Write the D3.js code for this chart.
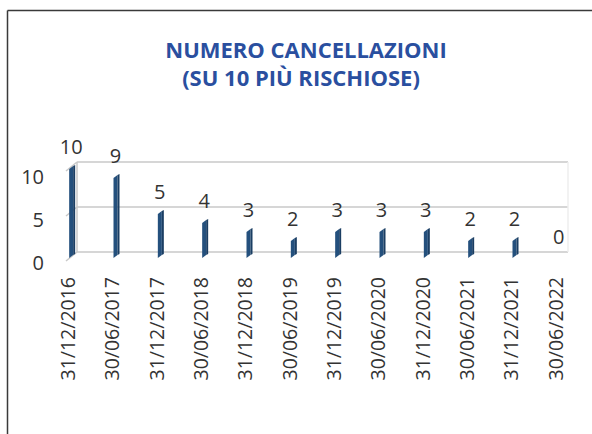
<!DOCTYPE html>
<html><head><meta charset="utf-8">
<script src="https://cdn.jsdelivr.net/npm/d3@7"></script>
<style>body{margin:0;background:#fff}svg{display:block}</style>
</head><body>
<script>
const categories = ["31/12/2016","30/06/2017","31/12/2017","30/06/2018","31/12/2018","30/06/2019","31/12/2019","30/06/2020","31/12/2020","30/06/2021","31/12/2021","30/06/2022"];
const values = [10,9,5,4,3,2,3,3,3,2,2,0];
const yTicks = [0,5,10];
const titleLines = ["NUMERO CANCELLAZIONI","(SU 10 PIÙ RISCHIOSE)"];

const W=592,H=434;
const svg=d3.select("body").append("svg").attr("width",W).attr("height",H);
svg.append("rect").attr("width",W).attr("height",H).attr("fill","#fff");

// border (top & left)
svg.append("line").attr("x1",7.5).attr("x2",W).attr("y1",10.5).attr("y2",10.5).attr("stroke","#3a3a3a").attr("stroke-width",1.5);
svg.append("line").attr("x1",7.5).attr("x2",7.5).attr("y1",10.5).attr("y2",H).attr("stroke","#3a3a3a").attr("stroke-width",1.5);

// title
svg.selectAll("text.title").data(titleLines).join("text")
  .attr("class","title")
  .attr("x",(d,i)=>i?301:306).attr("y",(d,i)=>i?86:57.5)
  .attr("text-anchor","middle")
  .attr("font-family","'Open Sans'").attr("font-weight","bold").attr("font-size",22)
  .attr("fill","#2a4f9f").text(d=>d);

const x=d3.scalePoint().domain(categories).range([50,582]).padding(0.5);
const y=d3.scaleLinear().domain([0,10]).range([258,168]);
const yLab=d3.scaleLinear().domain([0,10]).range([263,177]);
const DX=7, DY=-6;
const xL=70, xR=561;

const grid=svg.append("g").attr("stroke","#c9c9c9").attr("stroke-width",1.5).attr("fill","none");
grid.selectAll("line.g").data(yTicks).join("line").attr("class","g")
  .attr("x1",xL+DX).attr("x2",xR+DX).attr("y1",d=>y(d)+DY).attr("y2",d=>y(d)+DY);
grid.selectAll("line.s").data(yTicks).join("line").attr("class","s")
  .attr("x1",xL-4).attr("x2",xL+DX).attr("y1",d=>y(d)+3).attr("y2",d=>y(d)+DY);
grid.append("line").attr("x1",xL+DX).attr("x2",xL+DX).attr("y1",y(10)+DY).attr("y2",y(0)+DY);
grid.append("line").attr("x1",xR+DX).attr("x2",xR+DX).attr("y1",y(10)+DY).attr("y2",y(0)+DY).attr("stroke","#eeeeee");

// bars (thin 3D columns)
const barData=values.map((v,i)=>({c:categories[i],v})).filter(d=>d.v>0);
const bars=svg.append("g");
bars.selectAll("path.front").data(barData).join("path").attr("class","front")
  .attr("d",d=>{const c=x(d.c);const t=y(d.v),b=y(0);
    return `M${c-3},${b}L${c-3},${t+1}L${c+1},${t-2}L${c+1},${b-3}Z`;})
  .attr("fill","#24507d");
bars.selectAll("path.side").data(barData).join("path").attr("class","side")
  .attr("d",d=>{const c=x(d.c);const t=y(d.v),b=y(0);
    return `M${c+1},${b-3}L${c+1},${t-2}L${c+3},${t-3}L${c+3},${b-4}Z`;})
  .attr("fill","#1b3e63");

// value labels
svg.append("g").selectAll("text").data(values).join("text")
  .attr("x",(v,i)=>x(categories[i])-1).attr("y",v=>y(v)-21).attr("dy","0.35em")
  .attr("text-anchor","middle").attr("font-family","'Open Sans'").attr("font-size",20)
  .attr("fill","#333").text(v=>v);

// y tick labels
svg.append("g").selectAll("text").data(yTicks).join("text")
  .attr("x",44).attr("y",d=>yLab(d)).attr("dy","0.35em")
  .attr("text-anchor","end").attr("font-family","'Open Sans'").attr("font-size",20)
  .attr("fill","#333").text(d=>d);

// x labels
svg.append("g").selectAll("text").data(categories).join("text")
  .attr("transform",d=>`translate(${x(d)-4},277) rotate(-90)`).attr("dy","0.35em")
  .attr("text-anchor","end").attr("font-family","'Open Sans'").attr("font-size",19.5)
  .attr("fill","#333").text(d=>d);
</script>
</body></html>
